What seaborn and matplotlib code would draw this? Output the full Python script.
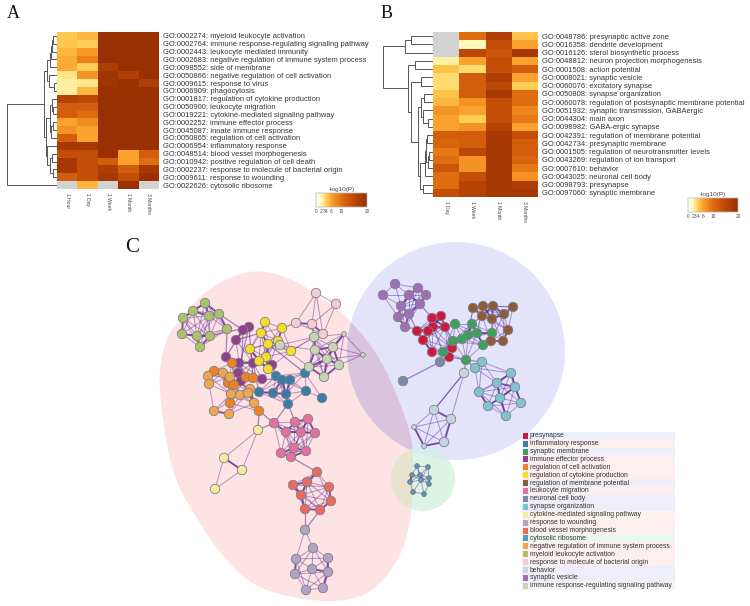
import numpy as np
import pandas as pd
import seaborn as sns
import matplotlib.pyplot as plt
from matplotlib.colors import LinearSegmentedColormap
from matplotlib.collections import LineCollection
from matplotlib.patches import Circle, PathPatch, Rectangle
from matplotlib.path import Path
from matplotlib.transforms import Affine2D

W, H = 750, 606

# panel A
a_cols = ["1 Hour", "1 Day", "1 Week", "1 Month", "3 Months"]
a_terms = ["GO:0002274: myeloid leukocyte activation",
           "GO:0002764: immune response-regulating signaling pathway",
           "GO:0002443: leukocyte mediated immunity",
           "GO:0002683: negative regulation of immune system process",
           "GO:0098552: side of membrane",
           "GO:0050866: negative regulation of cell activation",
           "GO:0009615: response to virus",
           "GO:0006909: phagocytosis",
           "GO:0001817: regulation of cytokine production",
           "GO:0050900: leukocyte migration",
           "GO:0019221: cytokine-mediated signaling pathway",
           "GO:0002252: immune effector process",
           "GO:0045087: innate immune response",
           "GO:0050865: regulation of cell activation",
           "GO:0006954: inflammatory response",
           "GO:0048514: blood vessel morphogenesis",
           "GO:0010942: positive regulation of cell death",
           "GO:0002237: response to molecule of bacterial origin",
           "GO:0009611: response to wounding",
           "GO:0022626: cytosolic ribosome"]
a_vals = [[4.3, 5, 20, 20, 20], [4.3, 4, 20, 20, 20], [5, 6.5, 20, 20, 20], [5.5, 8.5, 20, 20, 20],
          [5.5, 4, 17, 20, 20], [3, 7, 19, 17, 20], [2.5, 3, 19, 20, 17], [2.5, 5, 20, 20, 20],
          [16, 15, 20, 20, 20], [12, 12, 20, 20, 20], [12, 10, 20, 20, 20], [6, 7.5, 20, 20, 20],
          [7, 6, 20, 20, 20], [12, 6, 20, 20, 20], [18, 18, 20, 20, 20], [14, 14, 20, 6, 12],
          [18, 14, 12, 6, 10], [18, 14, 17, 12, 18], [12, 14, 18, 14, 20], [np.nan, 5, np.nan, 20, np.nan]]

# panel B
b_cols = ["1 Day", "1 Week", "1 Month", "3 Months"]
b_terms = ["GO:0048786: presynaptic active zone",
           "GO:0016358: dendrite development",
           "GO:0016126: sterol biosynthetic process",
           "GO:0048812: neuron projection morphogenesis",
           "GO:0001508: action potential",
           "GO:0008021: synaptic vesicle",
           "GO:0060076: excitatory synapse",
           "GO:0050808: synapse organization",
           "GO:0060078: regulation of postsynaptic membrane potential",
           "GO:0051932: synaptic transmission, GABAergic",
           "GO:0044304: main axon",
           "GO:0098982: GABA-ergic synapse",
           "GO:0042391: regulation of membrane potential",
           "GO:0042734: presynaptic membrane",
           "GO:0001505: regulation of neurotransmitter levels",
           "GO:0043269: regulation of ion transport",
           "GO:0007610: behavior",
           "GO:0043025: neuronal cell body",
           "GO:0098793: presynapse",
           "GO:0097060: synaptic membrane"]
b_vals = [[np.nan, 10, 17, 4.5], [np.nan, 2, 14, 6], [np.nan, 15, 13, 18], [2.5, 6, 14, 6],
          [4.5, 3.5, 14, 12], [3.5, 12, 17, 6], [3.5, 12, 15, 4], [4.5, 12, 18, 10],
          [5, 7, 14, 10], [7, 6, 14, 8], [6, 4, 14, 9], [6, 7, 16, 6],
          [12, 12, 18, 14], [11, 12, 18, 12], [9, 15, 18, 12], [10, 7, 18, 11],
          [13, 7, 18, 9], [10, 14, 18, 7], [10, 16, 18, 17], [14, 16, 18, 18]]

# dendrograms: (merge x in pixels, left, right), ints are rows
a_tree = (7,
          (44,
           (47, (50, (51, (52, (53, 0, 1), 2), 3), 4), (49, 5, (54, 6, 7))),
           (46,
            (50, (52, 8, (53, 9, 10)), (51, (53, 11, 12), 13)),
            (47, 14, (50, (52, 15, 16), (53, 17, 18))))),
          19)
b_tree = (383,
          (405, (411, 0, 1), 2),
          (408,
           (415, 3, 4),
           (411,
            (421, 5, 6),
            (418,
             (421, (424, 7, 8), (423, 9, (428, 10, 11))),
             (420,
              (425, (426, (427, 12, 13), (428, (429, 14, 15), 16)), 17),
              (423, 18, 19))))))

# network, pixel positions
net_nodes = {
    "presynapse": [(432, 318), (441, 316), (445, 327), (433, 327), (428, 331), (417, 331), (423, 340), (452, 348), (432, 352), (449, 357)],
    "inflammatory response": [(276, 376), (282, 380), (290, 380), (305, 373), (259, 392), (273, 393), (286, 394), (306, 391), (322, 398), (288, 404)],
    "synaptic membrane": [(455, 324), (472, 324), (477, 333), (492, 333), (468, 335), (462, 339), (453, 341), (483, 345), (443, 352), (466, 360)],
    "immune effector process": [(249, 327), (243, 330), (236, 340), (226, 357), (239, 363), (253, 363), (272, 365), (238, 373), (241, 381), (262, 379)],
    "regulation of cell activation": [(232, 363), (214, 371), (246, 377), (253, 378), (228, 383), (234, 385), (230, 403), (259, 411)],
    "regulation of cytokine production": [(265, 322), (282, 328), (261, 333), (278, 341), (268, 344), (250, 349), (291, 351), (266, 357), (259, 361), (268, 369)],
    "regulation of membrane potential": [(473, 308), (483, 306), (493, 306), (513, 307), (482, 316), (492, 319), (504, 314), (508, 330), (491, 341), (503, 341)],
    "leukocyte migration": [(274, 423), (295, 422), (308, 419), (286, 432), (301, 432), (315, 433), (294, 448), (281, 453), (306, 451), (291, 457)],
    "neuronal cell body": [(440, 362), (403, 381)],
    "synapse organization": [(482, 362), (475, 368), (511, 373), (497, 383), (515, 387), (479, 392), (500, 398), (521, 403), (488, 406), (506, 416)],
    "cytokine-mediated signaling pathway": [(258, 430), (224, 458), (242, 470), (215, 489)],
    "response to wounding": [(305, 530), (313, 548), (296, 559), (328, 558), (312, 569), (295, 574), (328, 572), (306, 590), (323, 588)],
    "blood vessel morphogenesis": [(317, 472), (293, 485), (307, 482), (329, 487), (301, 495), (331, 501), (305, 509), (320, 510)],
    "cytosolic ribosome": [(417, 466), (428, 467), (412, 475), (429, 478), (410, 482), (421, 480), (429, 484), (413, 492), (424, 494), (420, 475)],
    "negative regulation of immune system process": [(208, 376), (223, 373), (230, 377), (209, 384), (250, 389), (240, 395), (231, 394), (248, 393), (254, 403), (214, 411), (229, 414)],
    "myeloid leukocyte activation": [(205, 303), (193, 311), (183, 318), (182, 334), (197, 336), (209, 316), (219, 314), (227, 329), (210, 336), (200, 347)],
    "response to molecule of bacterial origin": [(316, 293), (336, 304), (296, 323), (312, 324), (323, 334)],
    "behavior": [(464, 373), (434, 410), (451, 419), (414, 427), (444, 442), (424, 446)],
    "synaptic vesicle": [(395, 284), (383, 295), (418, 288), (426, 295), (409, 295), (401, 306), (420, 304), (398, 317), (409, 314), (405, 327)],
    "immune response-regulating signaling pathway": [(314, 337), (344, 334), (315, 350), (333, 347), (327, 359), (339, 365), (309, 367), (324, 377), (363, 355), (280, 345)],
}
net_colors = ["#D0173F", "#3A7CA8", "#3EA060", "#8E3F8E", "#F08020", "#F5DE2A", "#8E5A3C", "#E56FA0",
              "#7E8AA5", "#7FC3D3", "#F5ECA0", "#B0A3C4", "#E86A60", "#5B97B5", "#F0A650", "#A9C26B",
              "#F5CBD8", "#C9D3E6", "#9E6EB8", "#C5D5B5"]
band_colors = ["#EEEEFB", "#FDEFEA", "#EEEEFB", "#FDEFEF", "#FDEFEF", "#FDEFEF", "#EEEEFB", "#FDEFEF",
               "#EEEEFB", "#EEEEFB", "#FDF3EA", "#FDEFEF", "#FDEFEF", "#EAF7EF", "#FDEFEF", "#FDEFEF",
               "#FDEFEF", "#EEEEFB", "#EEEEFB", "#F5F5F5"]
# how far a link reaches inside a term
reach = {"cytosolic ribosome": 16, "behavior": 50, "cytokine-mediated signaling pathway": 50,
         "response to molecule of bacterial origin": 42, "immune response-regulating signaling pathway": 42,
         "synapse organization": 38, "response to wounding": 34, "blood vessel morphogenesis": 38,
         "leukocyte migration": 34, "myeloid leukocyte activation": 36}
small_nodes = [("behavior", 3), ("behavior", 5), ("immune response-regulating signaling pathway", 1),
               ("immune response-regulating signaling pathway", 8)]
# links between terms, (term, node index, term, node index)
cross_links = [("immune effector process", 5, "regulation of cytokine production", 5),
               ("immune effector process", 6, "inflammatory response", 0),
               ("immune effector process", 9, "inflammatory response", 1),
               ("immune effector process", 4, "regulation of cell activation", 2),
               ("immune effector process", 3, "myeloid leukocyte activation", 7),
               ("immune effector process", 1, "myeloid leukocyte activation", 6),
               ("immune effector process", 0, "myeloid leukocyte activation", 8),
               ("immune effector process", 7, "negative regulation of immune system process", 2),
               ("immune effector process", 8, "negative regulation of immune system process", 7),
               ("immune effector process", 5, "inflammatory response", 4),
               ("immune effector process", 2, "regulation of cytokine production", 2),
               ("immune effector process", 0, "immune effector process", 7),
               ("immune effector process", 1, "immune effector process", 8),
               ("immune effector process", 0, "regulation of cell activation", 3),
               ("regulation of cytokine production", 6, "immune response-regulating signaling pathway", 0),
               ("regulation of cytokine production", 1, "response to molecule of bacterial origin", 2),
               ("regulation of cytokine production", 3, "immune response-regulating signaling pathway", 9),
               ("regulation of cytokine production", 9, "inflammatory response", 0),
               ("regulation of cytokine production", 4, "inflammatory response", 3),
               ("response to molecule of bacterial origin", 3, "immune response-regulating signaling pathway", 0),
               ("inflammatory response", 9, "leukocyte migration", 1),
               ("inflammatory response", 9, "leukocyte migration", 0),
               ("regulation of cell activation", 7, "leukocyte migration", 0),
               ("regulation of cell activation", 7, "cytokine-mediated signaling pathway", 0),
               ("leukocyte migration", 9, "blood vessel morphogenesis", 0),
               ("leukocyte migration", 0, "cytokine-mediated signaling pathway", 0),
               ("blood vessel morphogenesis", 6, "response to wounding", 0),
               ("blood vessel morphogenesis", 7, "response to wounding", 0),
               ("inflammatory response", 3, "immune response-regulating signaling pathway", 4),
               ("synaptic vesicle", 9, "presynapse", 4),
               ("synaptic vesicle", 6, "presynapse", 0),
               ("synaptic vesicle", 8, "presynapse", 5),
               ("presynapse", 2, "synaptic membrane", 6),
               ("presynapse", 7, "synaptic membrane", 5),
               ("presynapse", 9, "synaptic membrane", 9),
               ("presynapse", 3, "synaptic membrane", 8),
               ("synaptic membrane", 1, "regulation of membrane potential", 4),
               ("synaptic membrane", 3, "regulation of membrane potential", 5),
               ("synaptic membrane", 7, "regulation of membrane potential", 8),
               ("synaptic membrane", 2, "regulation of membrane potential", 1),
               ("synaptic membrane", 4, "regulation of membrane potential", 0),
               ("synaptic membrane", 9, "synapse organization", 1),
               ("synaptic membrane", 9, "synapse organization", 0),
               ("synaptic membrane", 8, "neuronal cell body", 0),
               ("neuronal cell body", 0, "neuronal cell body", 1),
               ("synaptic membrane", 9, "behavior", 0),
               ("behavior", 0, "behavior", 1)]

# hull outlines
red_hull = [(250, 272), (285, 277), (317, 295), (347, 318), (380, 360), (407, 423), (413, 463), (410, 520),
            (397, 560), (367, 593), (323, 601), (267, 590), (233, 567), (200, 523), (173, 470), (160, 390),
            (165, 345), (182, 317), (213, 287)]
blue_hull = (456, 351, 109)
green_hull = (423, 479, 32)

stops = [(0, "#FFFFFF"), (2 / 20, "#FFF8BE"), (3 / 20, "#FFE68A"), (4 / 20, "#FFCE55"),
         (6 / 20, "#FBA02C"), (10 / 20, "#E06C10"), (14 / 20, "#C44D08"), (1, "#983000")]
cmap = LinearSegmentedColormap.from_list("mlog", stops)
cmap.set_bad("#D2D2D2")

plt.rcParams["font.family"] = ["Liberation Sans", "DejaVu Sans"]
fig = plt.figure(figsize=(W / 100, H / 100), dpi=100)


def px_axes(x0, y0, x1, y1):
    return fig.add_axes([x0 / W, 1 - y1 / H, (x1 - x0) / W, (y1 - y0) / H])


def closed_spline(points, n=24):
    pts = np.array(points, dtype=float)
    out = []
    for i in range(len(pts)):
        p0, p1, p2, p3 = pts[i - 1], pts[i], pts[(i + 1) % len(pts)], pts[(i + 2) % len(pts)]
        for t in np.linspace(0, 1, n, endpoint=False):
            out.append(0.5 * (2 * p1 + (p2 - p0) * t + (2 * p0 - 5 * p1 + 4 * p2 - p3) * t ** 2
                              + (3 * p1 - p0 - 3 * p2 + p3) * t ** 3))
    return np.array(out)


def draw_tree(ax, node, row_h, top, right):
    # returns y of the node, adds the elbows on the way
    if isinstance(node, int):
        return top + (node + 0.5) * row_h, right
    x, left, other = node
    y1, x1 = draw_tree(ax, left, row_h, top, right)
    y2, x2 = draw_tree(ax, other, row_h, top, right)
    ax.plot([x1, x, x, x2], [y1, y1, y2, y2], color="#555555", lw=0.7, solid_joinstyle="miter")
    return (y1 + y2) / 2, x


def heat_panel(vals, terms, cols, box, cbar_box):
    x0, y0, x1, y1 = box
    ax = px_axes(x0, y0, x1, y1)
    cax = px_axes(*cbar_box)
    df = pd.DataFrame(vals, index=terms, columns=cols)
    sns.heatmap(df, ax=ax, cmap=cmap, vmin=0, vmax=20, cbar_ax=cax, xticklabels=True, yticklabels=True,
                cbar_kws={"orientation": "horizontal", "ticks": [0, 2, 3, 4, 6, 10, 20]})
    ax.yaxis.tick_right()
    ax.tick_params(axis="y", length=0, pad=3, labelsize=5.4, labelcolor="#333333", labelrotation=0)
    ax.tick_params(axis="x", length=0, pad=3, labelsize=3.6, labelcolor="#444444", labelrotation=270)
    ax.set_xlabel("")
    ax.set_ylabel("")
    cax.tick_params(length=0, pad=1.5, labelsize=3.4, labelcolor="#444444")
    for s in cax.spines.values():
        s.set_visible(True)
        s.set_linewidth(0.3)
        s.set_color("#BBBBBB")
    cax.text(0.5, 1.1, "-log10(P)", transform=cax.transAxes, ha="center", va="bottom",
             fontsize=4.6, color="#444444")


# overlay in image pixels for hulls, network, dendrograms and legend
ov = fig.add_axes([0, 0, 1, 1], zorder=0)
ov.set_xlim(0, W)
ov.set_ylim(H, 0)
ov.axis("off")

red_path = Path(closed_spline(red_hull), closed=False)
ov.add_patch(PathPatch(red_path, fc="#FDE3E3", ec="none", zorder=1))
bx, by, br = blue_hull
blue_path = Path.unit_circle().transformed(Affine2D().scale(br).translate(bx, by))
ov.add_patch(Circle((bx, by), br, fc="#E3E4FA", ec="none", zorder=1.1))
over = Circle((bx, by), br, fc="#D9C3DF", ec="none", zorder=1.2)
ov.add_patch(over)
over.set_clip_path(PathPatch(red_path, transform=ov.transData))
gx, gy, gr = green_hull
ov.add_patch(Circle((gx, gy), gr, fc="#DDF3E6", ec="none", zorder=1.3))
for fc, other in (("#E6E3CF", red_path), ("#D6EBEE", blue_path)):
    c = Circle((gx, gy), gr, fc=fc, ec="none", zorder=1.4)
    ov.add_patch(c)
    c.set_clip_path(PathPatch(other, transform=ov.transData))

# edges: close pairs inside a term, then the links between terms
segs, widths, alphas = [], [], []
for term, pts in net_nodes.items():
    r = reach.get(term, 32)
    for i in range(len(pts)):
        for j in range(i + 1, len(pts)):
            d = np.hypot(pts[i][0] - pts[j][0], pts[i][1] - pts[j][1])
            if d < r:
                segs.append([pts[i], pts[j]])
                widths.append(1.4 if d < r * 0.5 else 0.7)
                alphas.append(0.8 if d < r * 0.5 else 0.45)
for t1, i, t2, j in cross_links:
    segs.append([net_nodes[t1][i], net_nodes[t2][j]])
    widths.append(0.9)
    alphas.append(0.55)
edge_rgba = [(0.36, 0.16, 0.6, a) for a in alphas]
ov.add_collection(LineCollection(segs, colors=edge_rgba, linewidths=widths, zorder=2))

nodes = pd.DataFrame([(t, k, x, y) for t, pts in net_nodes.items() for k, (x, y) in enumerate(pts)],
                     columns=["term", "k", "x", "y"])
is_small = [(t, k) in small_nodes or t == "cytosolic ribosome" for t, k in zip(nodes.term, nodes.k)]
big = nodes[~np.array(is_small)]
small = nodes[np.array(is_small)]
palette = dict(zip(net_nodes.keys(), net_colors))
sns.scatterplot(data=big, x="x", y="y", hue="term", palette=palette, s=46, edgecolor="#808080",
                linewidth=0.6, legend=False, ax=ov, zorder=3)
sns.scatterplot(data=small, x="x", y="y", hue="term", palette=palette, s=12, edgecolor="#666666",
                linewidth=0.4, legend=False, ax=ov, zorder=3)
ov.set_xlim(0, W)
ov.set_ylim(H, 0)
ov.axis("off")

# legend table
for k, term in enumerate(net_nodes):
    y = 435.7 + k * 7.9
    ov.add_patch(Rectangle((522, y - 3.95), 153, 7.9, fc=band_colors[k], ec="none", zorder=4))
    ov.add_patch(Rectangle((523, y - 3), 5, 6, fc=net_colors[k], ec="none", zorder=5))
    ov.text(529.5, y, term, fontsize=4.9, va="center", ha="left", color="#333333", zorder=5)

draw_tree(ov, a_tree, (189 - 32) / 20, 32, 57)
draw_tree(ov, b_tree, (197 - 32) / 20, 32, 433)

heat_panel(a_vals, a_terms, a_cols, (57, 32, 159, 189), (316, 193, 367, 207))
heat_panel(b_vals, b_terms, b_cols, (433, 32, 538, 197), (688, 198, 738, 212))

for txt, x, y, fs in (("A", 7, 18, 13), ("B", 381, 18, 13), ("C", 125, 252, 15)):
    ov.text(x, y, txt, family="Liberation Serif", fontsize=fs, color="#111111", va="baseline", ha="left")

fig.savefig("out.png", dpi=100)
